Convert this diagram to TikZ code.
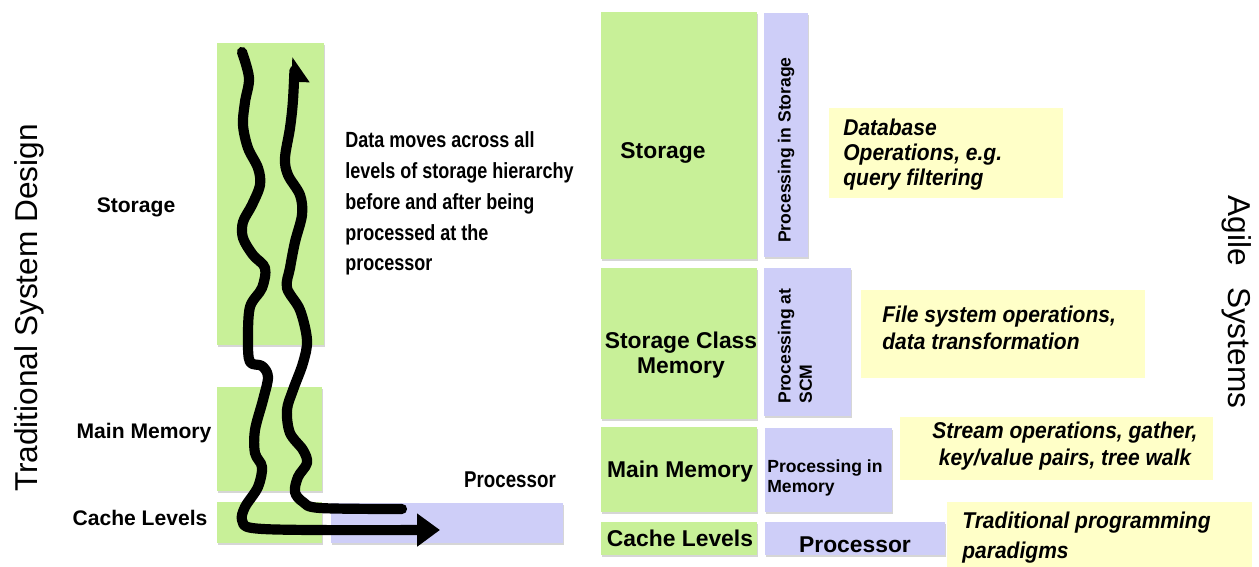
\documentclass[tikz,border=0pt]{standalone}
\usepackage{fontspec}
\setmainfont{Liberation Sans}
\newfontfamily\narrowfont[FakeStretch=0.82]{Liberation Sans}
\newfontfamily\semifont[FakeStretch=0.92]{Liberation Sans}
\usetikzlibrary{positioning}
\usetikzlibrary{calc}
\usetikzlibrary{arrows.meta}
\usetikzlibrary{fit}
\usetikzlibrary{shadows}
\definecolor{boxgreen}{RGB}{200,240,152}
\definecolor{boxlilac}{RGB}{206,206,248}
\definecolor{boxyellow}{RGB}{255,255,200}

\begin{document}
\begin{tikzpicture}[x=0.02cm, y=-0.02cm,
        every node/.style={inner sep=0pt},
        shade/.style={drop shadow={shadow xshift=0.6pt, shadow yshift=-0.9pt, opacity=0.35, fill=black!45}},
        gbox/.style={fill=boxgreen, fit={#1}, shade},
        lbox/.style={fill=boxlilac, fit={#1}, shade},
        ybox/.style={fill=boxyellow, fit={#1}},
        sidetitle/.style={font=\fontsize{18}{21}\selectfont},
        llabel/.style={font=\bfseries\fontsize{12}{14}\selectfont},
        rlabel/.style={font=\bfseries\fontsize{13}{14.5}\selectfont, align=center},
        plabel/.style={font=\bfseries\fontsize{10}{12}\selectfont, align=left},
        ytext/.style={font=\semifont\bfseries\itshape\fontsize{13}{14.2}\selectfont, align=left},
        flow/.style={line width=5.8pt, line cap=round, line join=round}]

    \fill[white] (0,0) rectangle (1259,567);
    \useasboundingbox (0,0) rectangle (1259,567);

    \node[sidetitle, rotate=90] (tsd) at (29,308) {Traditional System Design};
    \node[sidetitle, rotate=-90] (agile) at (1237,302) {Agile\hspace{12pt}Systems};

    \node[gbox={(217,43) (324,345)}] (lstor) {};
    \node[gbox={(217,387) (322,491)}] (lmain) {};
    \node[gbox={(217,502) (322,543)}] (lcache) {};
    \node[lbox={(331,503) (563,543)}] (lproc) {};

    \node[llabel] (lstorl) at (136,207) {Storage};
    \node[llabel] (lmainl) at (144,433) {Main Memory};
    \node[llabel] (lcachel) at (140,518) {Cache Levels};
    \node[font=\narrowfont\bfseries\fontsize{13}{15}\selectfont] (lprocl) at (510,480) {Processor};
    \node[font=\narrowfont\bfseries\fontsize{12.5}{17.6}\selectfont, align=left, anchor=north west] (note) at (345,131)
        {Data moves across all\\levels of storage hierarchy\\before and after being\\processed at the\\processor};

    \coordinate (astart) at (242,52);
    \coordinate (aend) at (440,530);
    \coordinate (bstart) at (402,509);
    \coordinate (bend) at (295,57);
    \draw[flow, -{Triangle[length=13pt,width=18pt]}] plot[smooth, tension=0.55] coordinates {(astart) (249,78) (245,102) (243,125) (248,148) (258,168) (260,185) (252,205) (243,222) (243,238) (253,255) (265,268) (262,288) (250,307) (248,340) (250,362) (262,366) (268,377) (263,400) (255,430) (255,453) (262,467) (258,487) (245,507) (242,520) (252,528) (310,530) (aend)};
    \draw[flow, -{Triangle[length=12pt,width=17pt,harpoon,swap]}] plot[smooth, tension=0.55] coordinates {(bstart) (320,508) (303,502) (295,492) (298,477) (307,463) (303,450) (290,433) (287,410) (293,390) (303,363) (307,340) (300,310) (287,288) (290,268) (295,242) (302,215) (300,195) (288,175) (285,158) (290,128) (293,100) (bend)};

    \node[gbox={(601,12) (757,259)}] (rstor) {};
    \node[lbox={(764,13) (808,257)}] (rpstor) {};
    \node[ybox={(829,108) (1063,198)}] (ydb) {};
    \node[gbox={(601,268) (757,419)}] (rscm) {};
    \node[lbox={(764,268) (851,416)}] (rpscm) {};
    \node[ybox={(861,290) (1145,378)}] (yfs) {};
    \node[gbox={(601,427) (757,512)}] (rmain) {};
    \node[lbox={(765,428) (892,512)}] (rpmem) {};
    \node[ybox={(900,417) (1213,480)}] (ystream) {};
    \node[gbox={(601,522) (757,555)}] (rcache) {};
    \node[lbox={(765,522) (945,555)}] (rproc) {};
    \node[ybox={(947,502) (1252,567)}] (ytrad) {};

    \node[rlabel] (rstorl) at (663,153) {Storage};
    \node[rlabel] (rscml) at (681,355) {Storage Class\\Memory};
    \node[rlabel] (rmainl) at (680,472) {Main Memory};
    \node[rlabel] (rcachel) at (680,538) {Cache Levels};
    \node[rlabel] (rprocl) at (855,545) {Processor};

    \node[plabel, rotate=90] (rpstorl) at (786,150) {Processing in Storage};
    \node[plabel, rotate=90, anchor=west] (rpscml) at (795,404) {Processing at\\SCM};
    \node[plabel, anchor=west, font=\bfseries\fontsize{10}{11.5}\selectfont] (rpmeml) at (767,478) {Processing in\\Memory};

    \node[ytext, anchor=west] (ydbt) at (843,155) {Database\\Operations, e.g.\\query filtering};
    \node[ytext, anchor=west, font=\semifont\bfseries\itshape\fontsize{13}{15.4}\selectfont] (yfst) at (882,328) {File system operations,\\data transformation};
    \node[ytext, align=center, font=\semifont\bfseries\itshape\fontsize{13}{15.4}\selectfont] (ystreamt) at (1065,446) {Stream operations, gather,\\key/value pairs, tree walk};
    \node[ytext, anchor=west, font=\semifont\bfseries\itshape\fontsize{13}{17}\selectfont] (ytradt) at (962,538) {Traditional programming\\paradigms};
\end{tikzpicture}
\end{document}
